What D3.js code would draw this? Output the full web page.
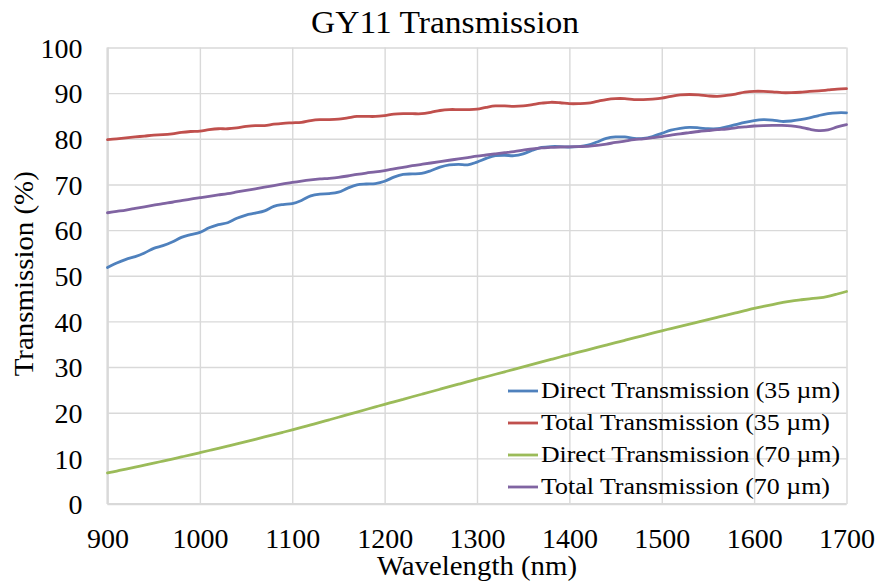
<!DOCTYPE html>
<html>
<head>
<meta charset="utf-8">
<script src="https://cdn.jsdelivr.net/npm/d3@7/dist/d3.min.js"></script>
<style>
  html, body { margin: 0; padding: 0; background: #fff; }
  svg { display: block; }
  text { font-family: "Liberation Serif", "DejaVu Serif", serif; fill: #000; }
</style>
</head>
<body>
<svg id="chart" width="880" height="588"></svg>
<script>
// Wavelength samples (nm), shared by every series
const wavelengths = d3.range(900, 1701, 10);

// Transmission (%) at each wavelength
const direct35 = [
  51.8, 52.8, 53.6, 54.2, 55.0, 56.0, 56.6, 57.4, 58.4, 59.0,
  59.5, 60.5, 61.2, 61.6, 62.6, 63.3, 63.7, 64.2, 65.2, 65.6,
  65.8, 66.5, 67.5, 67.9, 68.0, 68.3, 69.2, 69.9, 70.1, 70.2,
  70.7, 71.6, 72.2, 72.3, 72.4, 73.0, 73.8, 74.3, 74.4, 74.3,
  74.9, 75.7, 76.3, 76.4, 76.3, 76.7, 77.5, 78.1, 78.3, 78.3,
  78.2, 78.3, 78.6, 79.3, 80.1, 80.4, 80.4, 80.1, 80.1, 80.5,
  81.2, 81.9, 82.3, 82.5, 82.4, 82.2, 82.2, 82.6, 83.1, 83.6,
  84.0, 84.2, 84.1, 83.8, 83.9, 84.2, 84.6, 85.1, 85.5, 85.7,
  85.7
];
const total35 = [
  79.8, 80.0, 80.2, 80.4, 80.6, 80.8, 80.9, 81.1, 81.4, 81.6,
  81.7, 82.0, 82.2, 82.2, 82.4, 82.7, 82.9, 82.9, 83.2, 83.4,
  83.5, 83.6, 84.0, 84.2, 84.2, 84.3, 84.6, 84.9, 84.9, 84.9,
  85.1, 85.4, 85.5, 85.5, 85.5, 85.8, 86.2, 86.4, 86.4, 86.4,
  86.5, 86.9, 87.2, 87.2, 87.1, 87.2, 87.5, 87.8, 88.0, 87.9,
  87.7, 87.7, 87.8, 88.2, 88.6, 88.8, 88.8, 88.6, 88.6, 88.7,
  88.9, 89.3, 89.6, 89.7, 89.6, 89.4, 89.3, 89.5, 89.8, 90.2,
  90.4, 90.4, 90.3, 90.1, 90.1, 90.2, 90.4, 90.5, 90.7, 90.9,
  91.0
];
const direct70 = [
  6.80, 7.22, 7.64, 8.07, 8.51, 8.95, 9.40, 9.85, 10.31, 10.77,
  11.24, 11.72, 12.20, 12.69, 13.18, 13.68, 14.18, 14.69, 15.20, 15.72,
  16.24, 16.78, 17.33, 17.88, 18.44, 19.00, 19.56, 20.13, 20.70, 21.27,
  21.84, 22.39, 22.94, 23.49, 24.04, 24.59, 25.14, 25.69, 26.24, 26.79,
  27.34, 27.88, 28.42, 28.96, 29.50, 30.04, 30.58, 31.12, 31.66, 32.20,
  32.74, 33.26, 33.78, 34.30, 34.82, 35.34, 35.86, 36.38, 36.90, 37.42,
  37.94, 38.43, 38.92, 39.41, 39.90, 40.39, 40.88, 41.37, 41.86, 42.35,
  42.84, 43.28, 43.70, 44.10, 44.46, 44.72, 44.95, 45.15, 45.50, 46.00,
  46.55
];
const total70 = [
  63.8, 64.1, 64.4, 64.75, 65.1, 65.45, 65.8, 66.1, 66.45, 66.8,
  67.1, 67.4, 67.7, 68.0, 68.35, 68.7, 69.05, 69.4, 69.75, 70.1,
  70.45, 70.75, 71.0, 71.2, 71.35, 71.55, 71.85, 72.2, 72.5, 72.75,
  73.05, 73.4, 73.75, 74.1, 74.4, 74.7, 75.0, 75.3, 75.6, 75.9,
  76.2, 76.45, 76.7, 76.95, 77.2, 77.5, 77.8, 78.0, 78.1, 78.2,
  78.25, 78.3, 78.35, 78.55, 78.85, 79.2, 79.5, 79.8, 80.0, 80.25,
  80.5, 80.8, 81.1, 81.35, 81.6, 81.8, 82.0, 82.15, 82.4, 82.6,
  82.8, 82.9, 82.95, 82.95, 82.85, 82.55, 82.1, 81.8, 81.95, 82.6,
  83.1
];

const seriesNames = [
  "Direct Transmission (35 µm)",
  "Total Transmission (35 µm)",
  "Direct Transmission (70 µm)",
  "Total Transmission (70 µm)"
];
const seriesValues = [direct35, total35, direct70, total70];
const seriesColors = ["#4F81BD", "#C0504D", "#9BBB59", "#8064A2"];

const xTicks = [900, 1000, 1100, 1200, 1300, 1400, 1500, 1600, 1700];
const yTicks = [0, 10, 20, 30, 40, 50, 60, 70, 80, 90, 100];

const titleText = "GY11 Transmission";
const xTitle = "Wavelength (nm)";
const yTitle = "Transmission (%)";

// ---- layout ----
const margin = { left: 107.5, right: 33.5, top: 47.5, bottom: 84 };
const W = 880, H = 588;
const iw = W - margin.left - margin.right;
const ih = H - margin.top - margin.bottom;

const svg = d3.select("#chart");
const g = svg.append("g").attr("transform", `translate(${margin.left},${margin.top})`);

const x = d3.scaleLinear().domain([900, 1700]).range([0, iw]);
const y = d3.scaleLinear().domain([0, 100]).range([ih, 0]);

const gridColor = "#d9d9d9";

// horizontal grid + y tick labels
const yAxis = g.append("g")
  .call(d3.axisLeft(y).tickValues(yTicks).tickSize(-iw).tickPadding(0).tickFormat(d3.format("d")));
yAxis.select(".domain").remove();
yAxis.selectAll(".tick line").attr("stroke", gridColor).attr("stroke-width", 1.4);
yAxis.selectAll(".tick text")
  .attr("x", -25).attr("dy", "0.35em")
  .style("font-family", "'Liberation Serif', serif")
  .style("font-size", "28px").attr("fill", "#000");

// vertical grid + x tick labels
const xAxis = g.append("g").attr("transform", `translate(0,${ih})`)
  .call(d3.axisBottom(x).tickValues(xTicks).tickSize(-ih).tickPadding(0).tickFormat(d3.format("d")));
xAxis.select(".domain").remove();
xAxis.selectAll(".tick line").attr("stroke", gridColor).attr("stroke-width", 1.4);
xAxis.selectAll(".tick text")
  .attr("y", 44).attr("dy", 0)
  .style("font-family", "'Liberation Serif', serif")
  .style("font-size", "28px").attr("fill", "#000");

// axis baselines (left and bottom), slightly heavier than the grid
g.append("line").attr("x1", 0).attr("x2", iw).attr("y1", ih).attr("y2", ih)
  .attr("stroke", gridColor).attr("stroke-width", 2.2);
g.append("line").attr("x1", 0).attr("x2", 0).attr("y1", 0).attr("y2", ih)
  .attr("stroke", gridColor).attr("stroke-width", 2.2);

// series lines
const line = d3.line()
  .x((d, i) => x(wavelengths[i]))
  .y(d => y(d))
  .curve(d3.curveCatmullRom.alpha(0.5));

g.selectAll("path.series")
  .data(seriesValues)
  .join("path")
  .attr("class", "series")
  .attr("fill", "none")
  .attr("stroke", (d, i) => seriesColors[i])
  .attr("stroke-width", 2.8)
  .attr("stroke-linejoin", "round")
  .attr("stroke-linecap", "round")
  .attr("d", line);

// legend
const legendWidths = [299, 289, 299, 289];
const legend = svg.append("g").attr("transform", "translate(508,398)");
seriesNames.forEach((name, i) => {
  const row = legend.append("g").attr("transform", `translate(0,${i * 32})`);
  row.append("line").attr("x1", 0).attr("x2", 30).attr("y1", -7).attr("y2", -7)
    .attr("stroke", seriesColors[i]).attr("stroke-width", 2.8);
  row.append("text").attr("x", 33).attr("y", 0)
    .attr("textLength", legendWidths[i]).attr("lengthAdjust", "spacingAndGlyphs")
    .style("font-size", "22.5px").text(name);
});

// titles
svg.append("text")
  .attr("x", 445).attr("y", 33).attr("text-anchor", "middle")
  .attr("textLength", 268).attr("lengthAdjust", "spacingAndGlyphs")
  .style("font-size", "32px").text(titleText);

svg.append("text")
  .attr("x", margin.left + iw / 2).attr("y", 575).attr("text-anchor", "middle")
  .attr("textLength", 200).attr("lengthAdjust", "spacingAndGlyphs")
  .style("font-size", "27px").text(xTitle);

svg.append("text")
  .attr("transform", `translate(33,${margin.top + ih / 2 - 2}) rotate(-90)`)
  .attr("text-anchor", "middle")
  .attr("textLength", 205).attr("lengthAdjust", "spacingAndGlyphs")
  .style("font-size", "27px").text(yTitle);
</script>
</body>
</html>
